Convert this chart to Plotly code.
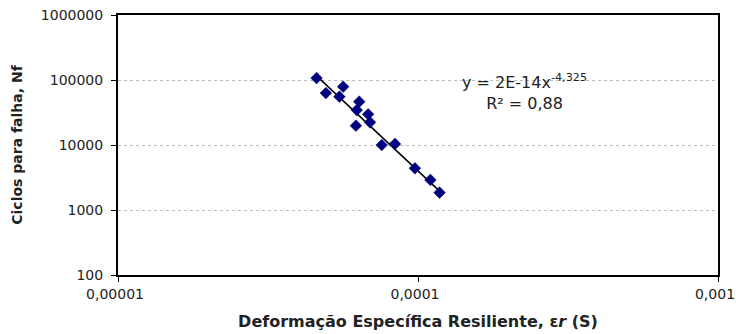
import plotly.graph_objects as go
import numpy as np

# Data
strain = [4.59e-5, 4.93e-5, 5.63e-5, 5.47e-5, 6.37e-5, 6.25e-5, 6.82e-5,
          6.92e-5, 6.21e-5, 7.57e-5, 8.38e-5, 9.77e-5, 1.10e-4, 1.18e-4]
cycles = [107000, 63000, 78900, 55400, 46400, 34500, 29700,
          22300, 19800, 10000, 10400, 4380, 2900, 1850]

# Power trendline y = a * x^b
coef_a = 2e-14
coef_b = -4.325
r2_text = "R² = 0,88"
eq_text = "y = 2E-14x<sup>-4,325</sup>"

x_tickvals = [1e-5, 1e-4, 1e-3]
x_ticktext = ["0,00001", "0,0001", "0,001"]
y_tickvals = [100, 1000, 10000, 100000, 1000000]
y_ticktext = ["100", "1000", "10000", "100000", "1000000"]

wide_font = "DejaVu Sans, Verdana, sans-serif"
text_color = "#222222"

trend_x = np.array([min(strain), max(strain)])
trend_y = coef_a * trend_x ** coef_b

fig = go.Figure()
fig.add_trace(go.Scatter(
    x=trend_x, y=trend_y, mode="lines",
    line=dict(color="black", width=1.5), showlegend=False, hoverinfo="skip"))
fig.add_trace(go.Scatter(
    x=strain, y=cycles, mode="markers",
    marker=dict(symbol="diamond", size=9, color="#000080",
                line=dict(color="#00006a", width=0.5)),
    showlegend=False))

fig.add_annotation(
    x=0.678, y=0.704, xref="paper", yref="paper",
    xanchor="center", yanchor="middle",
    text=eq_text + "<br>" + r2_text, showarrow=False, align="center",
    font=dict(family=wide_font, size=16, color=text_color))

fig.update_layout(
    width=736, height=334,
    margin=dict(l=118, r=18, t=15, b=59, autoexpand=False),
    paper_bgcolor="white", plot_bgcolor="white",
    font=dict(family=wide_font, size=14, color=text_color),
    xaxis=dict(
        type="log", range=[-5, -3], automargin=False,
        tickvals=x_tickvals, ticktext=x_ticktext,
        ticklabeloverflow="allow", ticklabelshift=-3,
        showgrid=False, zeroline=False,
        showline=True, linecolor="black", linewidth=2, mirror=True,
        ticks="outside", ticklen=5, tickcolor="black", tickwidth=1,
        tickfont=dict(family=wide_font, size=14, color=text_color),
        title=dict(text="<b>Deformação Específica Resiliente, ε<i>r</i> (S)</b>",
                   font=dict(family=wide_font, size=16, color=text_color))),
    yaxis=dict(
        type="log", range=[2, 6], automargin=False,
        tickvals=y_tickvals, ticktext=y_ticktext,
        ticklabelstandoff=5,
        showgrid=True, gridcolor="#bbbbbb", gridwidth=1, griddash="dot",
        zeroline=False,
        showline=True, linecolor="black", linewidth=2, mirror=True,
        ticks="outside", ticklen=5, tickcolor="black", tickwidth=1,
        tickfont=dict(family=wide_font, size=14, color=text_color),
        title=dict(text="<b>Ciclos para falha, Nf</b>",
                   font=dict(family=wide_font, size=14, color=text_color))),
)

fig.write_html(
    "out.html",
    config={"displayModeBar": False},
    post_script="document.body.style.margin='0';document.body.style.overflow='hidden';")
